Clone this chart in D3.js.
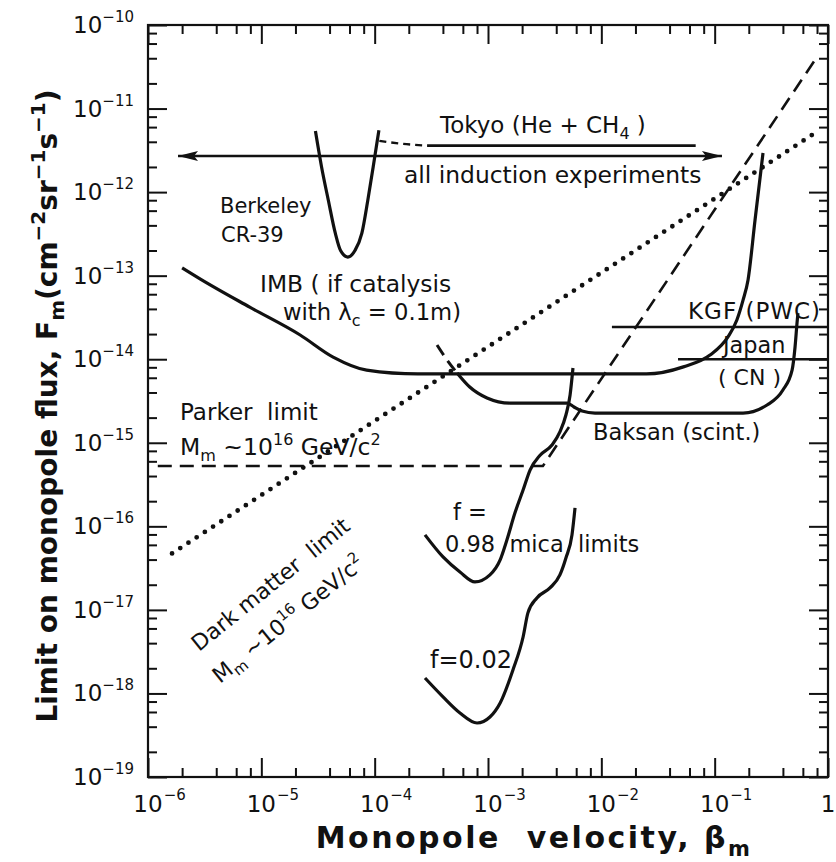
<!DOCTYPE html>
<html>
<head>
<meta charset="utf-8">
<script src="https://cdn.jsdelivr.net/npm/d3@7"></script>
<style>
body { margin: 0; background: #fff; }
svg text { font-family: "DejaVu Sans", sans-serif; fill: #111; white-space: pre; }
</style>
</head>
<body>
<script>
var w = 836;
var h = 862;
var svg = d3.select("body")
	.append("svg")
	.attr("width", w)
	.attr("height", h);

// axis ticks
var xMajor = [1e-6, 1e-5, 1e-4, 1e-3, 1e-2, 1e-1, 1];
var xTickLabels = [["10", "−6"], ["10", "−5"], ["10", "−4"], ["10", "−3"], ["10", "−2"], ["10", "−1"], ["1", ""]];
var yMajor = [1e-10, 1e-11, 1e-12, 1e-13, 1e-14, 1e-15, 1e-16, 1e-17, 1e-18, 1e-19];
var yTickLabels = [["10", "−10"], ["10", "−11"], ["10", "−12"], ["10", "−13"], ["10", "−14"],
	["10", "−15"], ["10", "−16"], ["10", "−17"], ["10", "−18"], ["10", "−19"]];
var minorSteps = [2, 4, 6, 8];

// curves, [beta, flux]
var induction = [[1.84e-6, 2.71e-12], [0.116, 2.71e-12]];
var tokyoDashed = [[1.1e-4, 4.1e-12], [1.7e-4, 3.8e-12], [2.9e-4, 3.6e-12]];
var tokyoSolid = [[2.9e-4, 3.6e-12], [6.8e-2, 3.6e-12]];
var berkeley = [[3.0e-5, 5.4e-12], [3.4e-5, 2.0e-12], [3.9e-5, 8.0e-13], [4.5e-5, 3.2e-13], [5.0e-5, 2.0e-13],
	[5.8e-5, 1.67e-13], [6.7e-5, 2.0e-13], [7.7e-5, 3.2e-13], [8.7e-5, 8.0e-13], [9.7e-5, 2.0e-12], [1.09e-4, 5.5e-12]];
var imb = [[2.0e-6, 1.24e-13], [2.9e-6, 9.1e-14], [7.9e-6, 4.2e-14], [2.2e-5, 1.95e-14], [4.3e-5, 1.06e-14],
	[8.5e-5, 7.4e-15], [2.4e-4, 6.66e-15], [2.5e-2, 6.66e-15], [5.3e-2, 8.1e-15], [9.1e-2, 1.12e-14],
	[0.131, 1.85e-14], [0.157, 2.95e-14], [0.178, 5.1e-14], [0.197, 8.9e-14], [0.227, 4.6e-13], [0.267, 2.94e-12]];
var baksanDashed = [[3.55e-4, 1.48e-14], [4.35e-4, 9.8e-15], [5.33e-4, 6.85e-15]];
var baksan = [[5.33e-4, 6.85e-15], [6.9e-4, 4.65e-15], [9.8e-4, 3.44e-15], [1.56e-3, 2.99e-15], [4.98e-3, 2.99e-15],
	[5.74e-3, 2.68e-15], [6.76e-3, 2.40e-15], [8.8e-3, 2.27e-15], [0.178, 2.27e-15], [0.29, 2.83e-15],
	[0.40, 4.28e-15], [0.482, 7.4e-15], [0.512, 1.40e-14], [0.533, 2.72e-14], [0.543, 3.57e-14]];
var parker = [[1.22e-6, 5.27e-16], [3.05e-3, 5.27e-16], [0.767, 3.81e-11]];
var darkMatter = [[1.63e-6, 4.74e-17], [0.767, 5.10e-12]];
var kgf = [[0.0124, 2.43e-14], [1, 2.43e-14]];
var japan = [[0.0475, 1.0e-14], [1, 1.0e-14]];
var mica098 = [[2.78e-4, 7.9e-17], [4.01e-4, 4.3e-17], [5.66e-4, 2.84e-17], [7.67e-4, 2.16e-17], [1.04e-3, 2.62e-17],
	[1.28e-3, 3.96e-17], [1.47e-3, 6.9e-17], [1.73e-3, 1.45e-16], [2.04e-3, 2.72e-16], [2.35e-3, 4.72e-16],
	[2.88e-3, 7.1e-16], [3.67e-3, 9.4e-16], [4.31e-3, 1.35e-15], [4.87e-3, 2.15e-15], [5.30e-3, 3.73e-15], [5.62e-3, 7.85e-15]];
var mica002 = [[2.78e-4, 1.53e-18], [4.01e-4, 9.1e-19], [5.66e-4, 5.84e-19], [8.0e-4, 4.43e-19], [1.04e-3, 5.23e-19],
	[1.28e-3, 7.7e-19], [1.66e-3, 1.91e-18], [2.04e-3, 4.74e-18], [2.25e-3, 9.2e-18], [2.70e-3, 1.39e-17],
	[3.52e-3, 1.83e-17], [4.31e-3, 2.62e-17], [4.87e-3, 4.18e-17], [5.51e-3, 7.9e-17], [5.86e-3, 1.66e-16]];

var plotL = 148, plotR = 828, plotT = 25, plotB = 777;
var x = d3.scaleLog().domain([1e-6, 1]).range([plotL, plotR]);
var y = d3.scaleLog().domain([1e-19, 1e-10]).range([plotB, plotT]);

var xMinor = [];
xMajor.slice(0, -1).forEach(function(v){
	minorSteps.forEach(function(m){ xMinor.push(v * m); });
});
var yMinor = [];
yMajor.slice(1).forEach(function(v){
	minorSteps.forEach(function(m){ yMinor.push(v * m); });
});

function tickAxis(axisFn, scale, values, size, tx, ty){
	svg.append("g")
		.attr("transform", "translate(" + tx + "," + ty + ")")
		.call(axisFn(scale).tickValues(values).tickSize(size).tickFormat(""))
		.call(function(g){
			g.select(".domain").remove();
			g.selectAll("line").attr("stroke", "#111").attr("stroke-width", 2);
		});
}
tickAxis(d3.axisBottom, x, xMajor, -19, 0, plotB);
tickAxis(d3.axisBottom, x, xMinor, -9, 0, plotB);
tickAxis(d3.axisTop, x, xMajor, -19, 0, plotT);
tickAxis(d3.axisTop, x, xMinor, -9, 0, plotT);
tickAxis(d3.axisLeft, y, yMajor, -19, plotL, 0);
tickAxis(d3.axisLeft, y, yMinor, -9, plotL, 0);
tickAxis(d3.axisRight, y, yMajor, -19, plotR, 0);
tickAxis(d3.axisRight, y, yMinor, -9, plotR, 0);

svg.append("rect")
	.attr("x", plotL).attr("y", plotT)
	.attr("width", plotR - plotL).attr("height", plotB - plotT)
	.attr("fill", "none").attr("stroke", "#111").attr("stroke-width", 2.2);

// tick labels
xMajor.forEach(function(v, i){
	var base = svg.append("text")
		.attr("x", x(v)).attr("y", plotB + 35)
		.attr("text-anchor", "middle")
		.style("font-size", "23px")
		.text(xTickLabels[i][0]);
	var bw = base.node().getComputedTextLength();
	svg.append("text")
		.attr("x", x(v) + bw / 2 + 1).attr("y", plotB + 23)
		.style("font-size", "15px")
		.text(xTickLabels[i][1]);
});
yMajor.forEach(function(v, i){
	var t = svg.append("text")
		.attr("x", plotL - 14).attr("y", y(v) + 8)
		.attr("text-anchor", "end")
		.style("font-size", "23px");
	t.append("tspan").text(yTickLabels[i][0]);
	t.append("tspan").attr("dy", -11).style("font-size", "15px").text(yTickLabels[i][1]);
});

// curves
var smooth = d3.line()
	.x(function(d){ return x(d[0]); })
	.y(function(d){ return y(d[1]); })
	.curve(d3.curveMonotoneX);
var straight = d3.line()
	.x(function(d){ return x(d[0]); })
	.y(function(d){ return y(d[1]); });

function curve(data, gen, width, dash, cap){
	svg.append("path")
		.attr("d", gen(data))
		.attr("fill", "none")
		.attr("stroke", "#111")
		.attr("stroke-width", width)
		.attr("stroke-dasharray", dash || null)
		.attr("stroke-linecap", cap || "butt")
		.attr("stroke-linejoin", "round");
}
curve(induction, straight, 2.6);
curve(tokyoDashed, smooth, 2.4, "7 5");
curve(tokyoSolid, straight, 2.6);
curve(berkeley, smooth, 3.2);
curve(imb, smooth, 3.2);
curve(baksanDashed, smooth, 3, "12 7");
curve(baksan, smooth, 3.2);
curve(parker, straight, 2.6, "14 8");
curve(darkMatter, straight, 4.8, "0 9.8", "round");
curve(kgf, straight, 2.6);
curve(japan, straight, 2.6);
curve(mica098, smooth, 3.2);
curve(mica002, smooth, 3.2);

// arrow heads on induction line
[[induction[0], 1], [induction[1], -1]].forEach(function(a){
	var px = x(a[0][0]), py = y(a[0][1]), s = a[1];
	svg.append("path")
		.attr("d", "M" + px + "," + py + "L" + (px + s * 20) + "," + (py - 5) +
			"L" + (px + s * 16) + "," + py + "L" + (px + s * 20) + "," + (py + 5) + "Z")
		.attr("fill", "#111");
});

// annotations
function label(px, py, parts, size, rot){
	size = size || 22.5;
	var t = svg.append("text")
		.attr("transform", "translate(" + px + "," + py + ")" + (rot ? " rotate(" + rot + ")" : ""))
		.style("font-size", size + "px");
	var shift = 0;
	parts.forEach(function(p){
		var str = typeof p === "string" ? p : p[0];
		var kind = typeof p === "string" ? "" : p[1];
		var target = kind === "sub" ? size * 0.25 : kind === "sup" ? -size * 0.42 : 0;
		var ts = t.append("tspan").attr("dy", target - shift).text(str);
		if (kind) ts.style("font-size", Math.round(size * 0.7) + "px");
		shift = target;
	});
	return t;
}
label(440, 133, ["Tokyo (He + CH", ["4", "sub"], " )"], 23);
label(404, 183, ["all induction experiments"], 23.4);
label(220, 213, ["Berkeley"], 21);
label(221, 242, ["CR-39"], 21);
label(260, 292, ["IMB ( if catalysis"], 23.4);
label(283, 320, ["with λ", ["c", "sub"], " = 0.1m)"], 22.7);
label(688, 319, ["KGF (PWC)"], 23).style("letter-spacing", "1px");
label(723, 353, ["Japan"], 22.4);
label(718, 385, ["( CN )"], 22);
label(180, 420, ["Parker  limit"], 23);
label(180, 455, ["M", ["m", "sub"], " ~10", ["16", "sup"], " GeV/c", ["2", "sup"]], 23.5);
label(593, 440, ["Baksan (scint.)"], 22.5);
label(453, 520, ["f ="], 22.5);
label(445, 552, ["0.98  mica  limits"], 22.5);
label(430, 668, ["f=0.02"], 24);
label(199, 652, ["Dark matter  limit"], 22, -39);
label(220, 684, ["M", ["m", "sub"], " ~10", ["16", "sup"], " GeV/c", ["2", "sup"]], 22, -39);

// axis titles
var xt = label(534, 848, ["Monopole  velocity, β", ["m", "sub"]], 30);
xt.attr("text-anchor", "middle").style("font-weight", "bold").style("letter-spacing", "2.5px");
var yt = label(57, 406, ["Limit on monopole flux, F", ["m", "sub"], "(cm", ["−2", "sup"], "sr", ["−1", "sup"], "s", ["−1", "sup"], ")"], 28, -90);
yt.attr("text-anchor", "middle").style("font-weight", "bold");
</script>
</body>
</html>
